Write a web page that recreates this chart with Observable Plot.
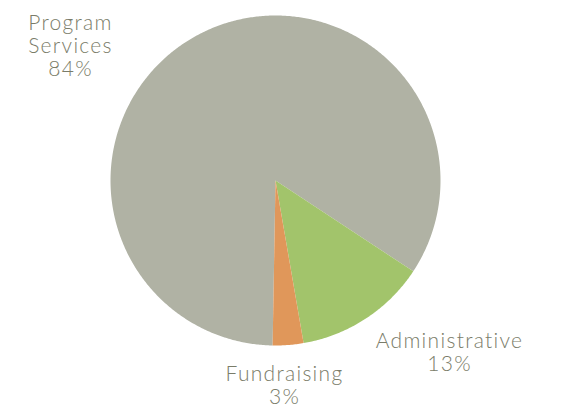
<!DOCTYPE html>
<html>
<head>
<meta charset="utf-8">
<script src="https://cdn.jsdelivr.net/npm/d3@7"></script>
<script src="https://cdn.jsdelivr.net/npm/@observablehq/plot@0.6"></script>
<style>
  html, body { margin: 0; padding: 0; background: #fff; }
  #chart svg { display: block; }
  #chart svg text { letter-spacing: 1.3px; }
</style>
</head>
<body>
<div id="chart"></div>
<script>
// Data
const categories = ["Program Services", "Administrative", "Fundraising"];
const values = [84, 13, 3];
const labelText = ["Program\nServices\n84%", "Administrative\n13%", "Fundraising\n3%"];

// Styles / layout (not data)
const colors = ["#b0b2a4", "#a2c46b", "#e0975a"];
const W = 562, H = 410;
const cx = 275, cy = 180, R = 165;
const startDeg = 181;
// label anchor points (pixel layout): center x, top y of first line
const labelPos = [[70, 13], [449, 331], [284, 364]];

const pie = d3.pie().sort(null).startAngle(startDeg * Math.PI / 180).endAngle((startDeg + 360) * Math.PI / 180);
const arcs = pie(values);

const pts = [];
arcs.forEach((a, i) => {
  const cat = categories[i];
  pts.push({cat, x: 0, y: 0});
  const n = Math.max(4, Math.ceil((a.endAngle - a.startAngle) / (Math.PI / 360)));
  for (let k = 0; k <= n; k++) {
    const t = a.startAngle + (a.endAngle - a.startAngle) * k / n;
    pts.push({cat, x: R * Math.sin(t), y: -R * Math.cos(t)});
  }
  pts.push({cat, x: 0, y: 0});
});

const labels = categories.map((c, i) => ({
  text: labelText[i],
  x: labelPos[i][0] - cx,
  y: labelPos[i][1] - cy
}));

const chart = Plot.plot({
  width: W,
  height: H,
  margin: 0,
  x: {domain: [-cx, W - cx], range: [0, W], axis: null},
  y: {domain: [-cy, H - cy], range: [0, H], axis: null},
  color: {type: "ordinal", domain: categories, range: colors},
  style: {background: "#fff"},
  marks: [
    Plot.line(pts, {x: "x", y: "y", z: "cat", fill: "cat", stroke: "none", curve: "linear"}),
    Plot.text(labels, {
      x: "x", y: "y", text: "text",
      lineAnchor: "top",
      textAnchor: "middle",
      lineHeight: 1.1,
      fontSize: 21,
      fontWeight: 300,
      fontFamily: "Lato, 'Open Sans', sans-serif",
      fill: "#7a7c69"
    })
  ]
});
document.getElementById("chart").appendChild(chart);
</script>
</body>
</html>
